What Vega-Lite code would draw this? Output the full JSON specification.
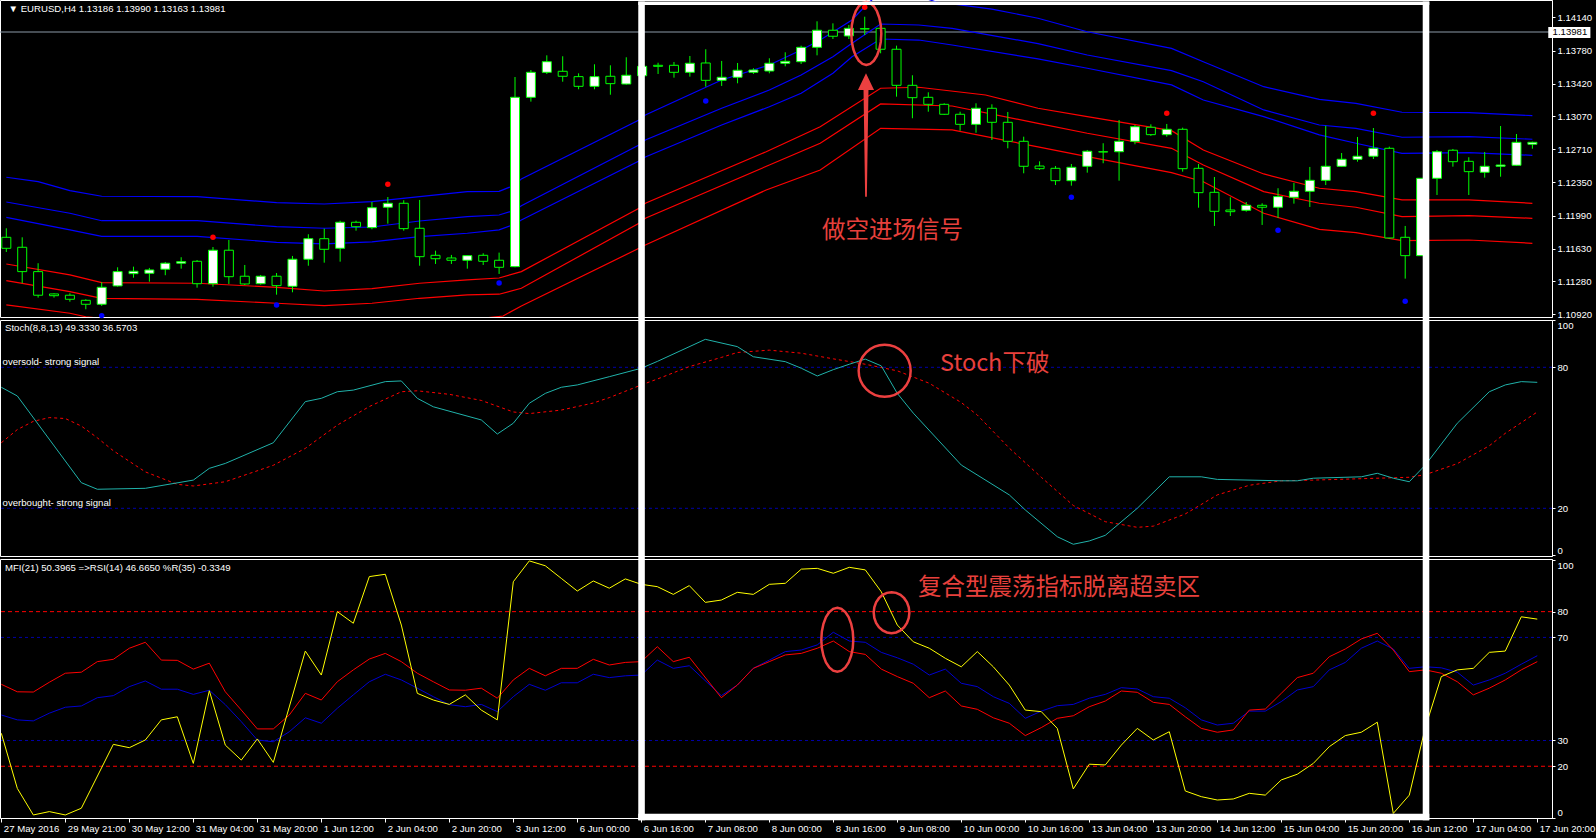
{
"$schema":"https://vega.github.io/schema/vega-lite/v6.json",
"background":"#000000",
"autosize":{"type":"none"},
"padding":{"left":0,"top":0,"right":1596,"bottom":838},
"spacing":3,
"bounds":"flush",
"config":{"view":{"stroke":"#ffffff","strokeWidth":1},"axis":{"labelFont":"Liberation Sans","labelFontSize":9.6,"labelColor":"#ffffff","tickColor":"#ffffff","domainColor":"#ffffff","grid":false,"labelOverlap":false},"text":{"font":"Liberation Sans"}},
"datasets":{
"candles":[
{"k":0,"o":1.11755,"h":1.11853,"l":1.11596,"c":1.11636},
{"k":1,"o":1.11647,"h":1.11755,"l":1.11257,"c":1.11383},
{"k":2,"o":1.11383,"h":1.11474,"l":1.11101,"c":1.11127},
{"k":3,"o":1.11141,"h":1.11148,"l":1.11101,"c":1.11122},
{"k":4,"o":1.11127,"h":1.11148,"l":1.11057,"c":1.11083},
{"k":5,"o":1.11072,"h":1.11083,"l":1.10975,"c":1.11029},
{"k":6,"o":1.11029,"h":1.11268,"l":1.11011,"c":1.11213},
{"k":7,"o":1.11228,"h":1.11430,"l":1.11220,"c":1.11383},
{"k":8,"o":1.11361,"h":1.11437,"l":1.11317,"c":1.11387},
{"k":9,"o":1.11365,"h":1.11423,"l":1.11274,"c":1.11401},
{"k":10,"o":1.11409,"h":1.11488,"l":1.11344,"c":1.11474},
{"k":11,"o":1.11474,"h":1.11539,"l":1.11415,"c":1.11491},
{"k":12,"o":1.11495,"h":1.11509,"l":1.11209,"c":1.11252},
{"k":13,"o":1.11252,"h":1.11650,"l":1.11220,"c":1.11615},
{"k":14,"o":1.11615,"h":1.11726,"l":1.11249,"c":1.11328},
{"k":15,"o":1.11333,"h":1.11455,"l":1.11238,"c":1.11249},
{"k":16,"o":1.11252,"h":1.11347,"l":1.11242,"c":1.11333},
{"k":17,"o":1.11333,"h":1.11368,"l":1.11133,"c":1.11231},
{"k":18,"o":1.11224,"h":1.11553,"l":1.11159,"c":1.11517},
{"k":19,"o":1.11517,"h":1.11788,"l":1.11447,"c":1.11740},
{"k":20,"o":1.11740,"h":1.11849,"l":1.11480,"c":1.11625},
{"k":21,"o":1.11636,"h":1.11935,"l":1.11491,"c":1.11918},
{"k":22,"o":1.11918,"h":1.11935,"l":1.11827,"c":1.11870},
{"k":23,"o":1.11860,"h":1.12138,"l":1.11842,"c":1.12076},
{"k":24,"o":1.12081,"h":1.12192,"l":1.11903,"c":1.12124},
{"k":25,"o":1.12124,"h":1.12157,"l":1.11827,"c":1.11849},
{"k":26,"o":1.11853,"h":1.12160,"l":1.11447,"c":1.11545},
{"k":27,"o":1.11560,"h":1.11610,"l":1.11466,"c":1.11523},
{"k":28,"o":1.11531,"h":1.11564,"l":1.11466,"c":1.11506},
{"k":29,"o":1.11506,"h":1.11556,"l":1.11415,"c":1.11556},
{"k":30,"o":1.11560,"h":1.11582,"l":1.11455,"c":1.11495},
{"k":31,"o":1.11506,"h":1.11589,"l":1.11358,"c":1.11430},
{"k":32,"o":1.11437,"h":1.13493,"l":1.11430,"c":1.13273},
{"k":33,"o":1.13273,"h":1.13569,"l":1.13226,"c":1.13544},
{"k":34,"o":1.13544,"h":1.13728,"l":1.13526,"c":1.13659},
{"k":35,"o":1.13555,"h":1.13718,"l":1.13442,"c":1.13501},
{"k":36,"o":1.13497,"h":1.13533,"l":1.13360,"c":1.13392},
{"k":37,"o":1.13392,"h":1.13631,"l":1.13360,"c":1.13497},
{"k":38,"o":1.13501,"h":1.13620,"l":1.13301,"c":1.13421},
{"k":39,"o":1.13417,"h":1.13707,"l":1.13410,"c":1.13512},
{"k":40,"o":1.13507,"h":1.13620,"l":1.13497,"c":1.13609},
{"k":41,"o":1.13620,"h":1.13648,"l":1.13526,"c":1.13609},
{"k":42,"o":1.13620,"h":1.13656,"l":1.13486,"c":1.13544},
{"k":43,"o":1.13544,"h":1.13721,"l":1.13497,"c":1.13642},
{"k":44,"o":1.13645,"h":1.13794,"l":1.13388,"c":1.13457},
{"k":45,"o":1.13457,"h":1.13667,"l":1.13396,"c":1.13490},
{"k":46,"o":1.13490,"h":1.13645,"l":1.13425,"c":1.13566},
{"k":47,"o":1.13544,"h":1.13588,"l":1.13526,"c":1.13569},
{"k":48,"o":1.13558,"h":1.13696,"l":1.13533,"c":1.13642},
{"k":49,"o":1.13642,"h":1.13761,"l":1.13609,"c":1.13663},
{"k":50,"o":1.13659,"h":1.13833,"l":1.13634,"c":1.13815},
{"k":51,"o":1.13815,"h":1.14097,"l":1.13728,"c":1.14000},
{"k":52,"o":1.14000,"h":1.14075,"l":1.13905,"c":1.13935},
{"k":53,"o":1.13938,"h":1.14057,"l":1.13905,"c":1.14021},
{"k":54,"o":1.14017,"h":1.14147,"l":1.13949,"c":1.14014},
{"k":55,"o":1.14021,"h":1.14039,"l":1.13750,"c":1.13794},
{"k":56,"o":1.13794,"h":1.13833,"l":1.13280,"c":1.13403},
{"k":57,"o":1.13403,"h":1.13512,"l":1.13046,"c":1.13269},
{"k":58,"o":1.13273,"h":1.13327,"l":1.13117,"c":1.13197},
{"k":59,"o":1.13197,"h":1.13208,"l":1.13081,"c":1.13089},
{"k":60,"o":1.13089,"h":1.13117,"l":1.12911,"c":1.12980},
{"k":61,"o":1.12980,"h":1.13208,"l":1.12889,"c":1.13154},
{"k":62,"o":1.13154,"h":1.13197,"l":1.12810,"c":1.13002},
{"k":63,"o":1.13002,"h":1.13114,"l":1.12720,"c":1.12796},
{"k":64,"o":1.12796,"h":1.12846,"l":1.12449,"c":1.12525},
{"k":65,"o":1.12528,"h":1.12579,"l":1.12485,"c":1.12499},
{"k":66,"o":1.12503,"h":1.12528,"l":1.12322,"c":1.12369},
{"k":67,"o":1.12369,"h":1.12550,"l":1.12315,"c":1.12514},
{"k":68,"o":1.12525,"h":1.12702,"l":1.12456,"c":1.12688},
{"k":69,"o":1.12683,"h":1.12775,"l":1.12558,"c":1.12680},
{"k":70,"o":1.12683,"h":1.13027,"l":1.12369,"c":1.12796},
{"k":71,"o":1.12796,"h":1.12973,"l":1.12764,"c":1.12954},
{"k":72,"o":1.12948,"h":1.12980,"l":1.12854,"c":1.12868},
{"k":73,"o":1.12868,"h":1.12984,"l":1.12846,"c":1.12926},
{"k":74,"o":1.12926,"h":1.12944,"l":1.12467,"c":1.12499},
{"k":75,"o":1.12503,"h":1.12550,"l":1.12076,"c":1.12239},
{"k":76,"o":1.12243,"h":1.12409,"l":1.11878,"c":1.12037},
{"k":77,"o":1.12051,"h":1.12189,"l":1.11986,"c":1.12033},
{"k":78,"o":1.12048,"h":1.12138,"l":1.12033,"c":1.12102},
{"k":79,"o":1.12102,"h":1.12124,"l":1.11889,"c":1.12081},
{"k":80,"o":1.12081,"h":1.12287,"l":1.11965,"c":1.12196},
{"k":81,"o":1.12189,"h":1.12344,"l":1.12120,"c":1.12254},
{"k":82,"o":1.12254,"h":1.12518,"l":1.12084,"c":1.12373},
{"k":83,"o":1.12373,"h":1.12965,"l":1.12322,"c":1.12525},
{"k":84,"o":1.12525,"h":1.12669,"l":1.12521,"c":1.12601},
{"k":85,"o":1.12601,"h":1.12843,"l":1.12575,"c":1.12634},
{"k":86,"o":1.12634,"h":1.12940,"l":1.12604,"c":1.12720},
{"k":87,"o":1.12720,"h":1.12738,"l":1.11740,"c":1.11748},
{"k":88,"o":1.11755,"h":1.11878,"l":1.11307,"c":1.11556},
{"k":89,"o":1.11556,"h":1.12395,"l":1.11556,"c":1.12395},
{"k":90,"o":1.12395,"h":1.12702,"l":1.12214,"c":1.12683},
{"k":91,"o":1.12699,"h":1.12713,"l":1.12521,"c":1.12575},
{"k":92,"o":1.12579,"h":1.12623,"l":1.12214,"c":1.12467},
{"k":93,"o":1.12460,"h":1.12680,"l":1.12402,"c":1.12525},
{"k":94,"o":1.12525,"h":1.12962,"l":1.12412,"c":1.12539},
{"k":95,"o":1.12536,"h":1.12875,"l":1.12532,"c":1.12785},
{"k":96,"o":1.12764,"h":1.12792,"l":1.12716,"c":1.12785}
],
"bandsBlue":[
{"band":"b1","k":0,"p":1.12406},{"band":"b1","k":2,"p":1.12358},{"band":"b1","k":4,"p":1.12261},{"band":"b1","k":6,"p":1.12200},{"band":"b1","k":12,"p":1.12196},{"band":"b1","k":17,"p":1.12131},{"band":"b1","k":20,"p":1.12116},{"band":"b1","k":23,"p":1.12141},{"band":"b1","k":26,"p":1.12196},{"band":"b1","k":29,"p":1.12250},{"band":"b1","k":31,"p":1.12254},{"band":"b1","k":32,"p":1.12322},{"band":"b1","k":32.4,"p":1.12388},{"band":"b1","k":39.8,"p":1.13027},{"band":"b1","k":40.2,"p":1.13081},{"band":"b1","k":45,"p":1.13461},{"band":"b1","k":48,"p":1.13623},{"band":"b1","k":50,"p":1.13786},{"band":"b1","k":51.2,"p":1.13894},{"band":"b1","k":53.2,"p":1.14111},{"band":"b1","k":54.1,"p":1.14274},{"band":"b1","k":55,"p":1.14415},{"band":"b1","k":57,"p":1.14393},{"band":"b1","k":58.5,"p":1.14306},{"band":"b1","k":59.5,"p":1.14285},{"band":"b1","k":62,"p":1.14230},{"band":"b1","k":64.9,"p":1.14130},{"band":"b1","k":68,"p":1.13984},{"band":"b1","k":73.3,"p":1.13804},{"band":"b1","k":75.3,"p":1.13659},{"band":"b1","k":79.1,"p":1.13388},{"band":"b1","k":82.6,"p":1.13251},{"band":"b1","k":84.9,"p":1.13208},{"band":"b1","k":87.8,"p":1.13111},{"band":"b1","k":92,"p":1.13106},{"band":"b1","k":96,"p":1.13074},
{"band":"b2","k":0,"p":1.12138},{"band":"b2","k":4,"p":1.12016},{"band":"b2","k":6,"p":1.11935},{"band":"b2","k":12,"p":1.11935},{"band":"b2","k":17,"p":1.11870},{"band":"b2","k":20,"p":1.11853},{"band":"b2","k":23,"p":1.11867},{"band":"b2","k":26,"p":1.11932},{"band":"b2","k":29,"p":1.11979},{"band":"b2","k":31,"p":1.11997},{"band":"b2","k":32,"p":1.12050},{"band":"b2","k":32.4,"p":1.12098},{"band":"b2","k":39.8,"p":1.12756},{"band":"b2","k":40.2,"p":1.12810},{"band":"b2","k":45,"p":1.13154},{"band":"b2","k":48,"p":1.13352},{"band":"b2","k":50,"p":1.13515},{"band":"b2","k":52,"p":1.13713},{"band":"b2","k":53.2,"p":1.13859},{"band":"b2","k":55,"p":1.14068},{"band":"b2","k":57.4,"p":1.14057},{"band":"b2","k":59.5,"p":1.14021},{"band":"b2","k":64.9,"p":1.13855},{"band":"b2","k":68,"p":1.13732},{"band":"b2","k":73.3,"p":1.13562},{"band":"b2","k":75.3,"p":1.13442},{"band":"b2","k":79.1,"p":1.13136},{"band":"b2","k":82.6,"p":1.12973},{"band":"b2","k":84.9,"p":1.12937},{"band":"b2","k":87.8,"p":1.12840},{"band":"b2","k":92,"p":1.12846},{"band":"b2","k":96,"p":1.12818},
{"band":"b3","k":0,"p":1.11972},{"band":"b3","k":4,"p":1.11835},{"band":"b3","k":6,"p":1.11766},{"band":"b3","k":12,"p":1.11766},{"band":"b3","k":17,"p":1.11701},{"band":"b3","k":20,"p":1.11683},{"band":"b3","k":23,"p":1.11705},{"band":"b3","k":26,"p":1.11762},{"band":"b3","k":29,"p":1.11799},{"band":"b3","k":31,"p":1.11835},{"band":"b3","k":32,"p":1.11900},{"band":"b3","k":32.4,"p":1.11943},{"band":"b3","k":39.8,"p":1.12583},{"band":"b3","k":40.2,"p":1.12626},{"band":"b3","k":45,"p":1.12973},{"band":"b3","k":48,"p":1.13171},{"band":"b3","k":50,"p":1.13317},{"band":"b3","k":52,"p":1.13533},{"band":"b3","k":53.2,"p":1.13713},{"band":"b3","k":55,"p":1.13905},{"band":"b3","k":57.4,"p":1.13894},{"band":"b3","k":59.5,"p":1.13840},{"band":"b3","k":64.9,"p":1.13690},{"band":"b3","k":68,"p":1.13588},{"band":"b3","k":73.3,"p":1.13407},{"band":"b3","k":75.3,"p":1.13244},{"band":"b3","k":79.1,"p":1.13063},{"band":"b3","k":82.6,"p":1.12865},{"band":"b3","k":84.9,"p":1.12775},{"band":"b3","k":87.8,"p":1.12666},{"band":"b3","k":92,"p":1.12673},{"band":"b3","k":96,"p":1.12644}
],
"bandsRed":[
{"band":"r1","k":0,"p":1.11466},{"band":"r1","k":4,"p":1.11347},{"band":"r1","k":6,"p":1.11263},{"band":"r1","k":12,"p":1.11257},{"band":"r1","k":17,"p":1.11213},{"band":"r1","k":20,"p":1.11173},{"band":"r1","k":23,"p":1.11198},{"band":"r1","k":26,"p":1.11257},{"band":"r1","k":29,"p":1.11293},{"band":"r1","k":31,"p":1.11314},{"band":"r1","k":32.4,"p":1.11383},{"band":"r1","k":39.8,"p":1.12070},{"band":"r1","k":40.2,"p":1.12124},{"band":"r1","k":47.8,"p":1.12683},{"band":"r1","k":51.2,"p":1.12954},{"band":"r1","k":55,"p":1.13371},{"band":"r1","k":57.4,"p":1.13382},{"band":"r1","k":61.6,"p":1.13298},{"band":"r1","k":64.9,"p":1.13154},{"band":"r1","k":68,"p":1.13063},{"band":"r1","k":73.3,"p":1.12911},{"band":"r1","k":75.3,"p":1.12702},{"band":"r1","k":79.1,"p":1.12442},{"band":"r1","k":82.6,"p":1.12287},{"band":"r1","k":84.9,"p":1.12250},{"band":"r1","k":87.8,"p":1.12160},{"band":"r1","k":92,"p":1.12160},{"band":"r1","k":96,"p":1.12124},
{"band":"r2","k":0,"p":1.11285},{"band":"r2","k":4,"p":1.11166},{"band":"r2","k":6,"p":1.11094},{"band":"r2","k":12,"p":1.11083},{"band":"r2","k":17,"p":1.11040},{"band":"r2","k":20,"p":1.11014},{"band":"r2","k":23,"p":1.11040},{"band":"r2","k":26,"p":1.11094},{"band":"r2","k":29,"p":1.11130},{"band":"r2","k":31,"p":1.11138},{"band":"r2","k":32.4,"p":1.11203},{"band":"r2","k":39.8,"p":1.11907},{"band":"r2","k":40.2,"p":1.11961},{"band":"r2","k":48,"p":1.12539},{"band":"r2","k":51.2,"p":1.12775},{"band":"r2","k":55,"p":1.13201},{"band":"r2","k":59.5,"p":1.13179},{"band":"r2","k":64.9,"p":1.12991},{"band":"r2","k":68,"p":1.12883},{"band":"r2","k":73.3,"p":1.12720},{"band":"r2","k":75.3,"p":1.12539},{"band":"r2","k":79.1,"p":1.12250},{"band":"r2","k":82.6,"p":1.12124},{"band":"r2","k":84.9,"p":1.12081},{"band":"r2","k":87.8,"p":1.11979},{"band":"r2","k":92,"p":1.11990},{"band":"r2","k":96,"p":1.11961},
{"band":"r3","k":0,"p":1.11022},{"band":"r3","k":4,"p":1.10932},{"band":"r3","k":5,"p":1.10894},{"band":"r3","k":8,"p":1.10837},{"band":"r3","k":12,"p":1.10805},{"band":"r3","k":17,"p":1.10751},{"band":"r3","k":20,"p":1.10729},{"band":"r3","k":23,"p":1.10751},{"band":"r3","k":26,"p":1.10805},{"band":"r3","k":29,"p":1.10859},{"band":"r3","k":31.25,"p":1.10902},{"band":"r3","k":32.4,"p":1.11011},{"band":"r3","k":39.8,"p":1.11636},{"band":"r3","k":40.2,"p":1.11672},{"band":"r3","k":47.8,"p":1.12268},{"band":"r3","k":51.2,"p":1.12485},{"band":"r3","k":55,"p":1.12937},{"band":"r3","k":59.5,"p":1.12919},{"band":"r3","k":64.9,"p":1.12735},{"band":"r3","k":68,"p":1.12629},{"band":"r3","k":73.3,"p":1.12456},{"band":"r3","k":75.3,"p":1.12358},{"band":"r3","k":79.1,"p":1.12016},{"band":"r3","k":82.6,"p":1.11842},{"band":"r3","k":84.9,"p":1.11805},{"band":"r3","k":87.8,"p":1.11719},{"band":"r3","k":92,"p":1.11726},{"band":"r3","k":96,"p":1.11690}
],
"dotsHi":[{"k":13,"p":1.11755},{"k":24,"p":1.12330},{"k":54,"p":1.14249},{"k":73,"p":1.13100},{"k":86,"p":1.13100}],
"dotsLo":[{"k":6,"p":1.10906},{"k":17,"p":1.11022},{"k":31,"p":1.11260},{"k":44,"p":1.13233},{"k":67,"p":1.12189},{"k":80,"p":1.11831},{"k":88,"p":1.11062}],
"stochK":[
{"k":0,"v":71.5},{"k":1,"v":67.8},{"k":5,"v":30.9},{"k":6,"v":28.1},{"k":9,"v":28.5},{"k":12,"v":32.0},{"k":13,"v":37.0},{"k":14,"v":39.1},{"k":17,"v":47.9},{"k":19,"v":65.4},{"k":20,"v":66.8},{"k":21,"v":69.6},{"k":22,"v":70.3},{"k":24,"v":73.9},{"k":25,"v":74.2},{"k":26,"v":66.8},{"k":27,"v":63.2},{"k":30,"v":57.6},{"k":31,"v":51.6},{"k":32,"v":56.2},{"k":33,"v":64.7},{"k":34,"v":68.9},{"k":35,"v":71.5},{"k":36,"v":72.5},{"k":38,"v":76.0},{"k":40,"v":79.6},{"k":41,"v":82.5},{"k":44,"v":91.9},{"k":46,"v":88.8},{"k":47,"v":84.5},{"k":49,"v":82.4},{"k":50,"v":79.6},{"k":51,"v":76.3},{"k":52,"v":79.0},{"k":53,"v":81.3},{"k":54,"v":83.5},{"k":55,"v":80.6},{"k":56,"v":68.9},{"k":57,"v":60.5},{"k":60,"v":38.4},{"k":63,"v":25.7},{"k":64,"v":19.3},{"k":66,"v":7.9},{"k":67,"v":4.7},{"k":68,"v":6.1},{"k":69,"v":8.5},{"k":71,"v":20.0},{"k":73,"v":33.4},{"k":75,"v":33.4},{"k":76,"v":32.3},{"k":80,"v":31.7},{"k":81,"v":31.7},{"k":82,"v":32.8},{"k":85,"v":33.4},{"k":86,"v":34.9},{"k":87,"v":32.8},{"k":88,"v":31.3},{"k":89,"v":38.4},{"k":91,"v":56.2},{"k":93,"v":69.6},{"k":94,"v":72.5},{"k":95,"v":73.9},{"k":96,"v":73.6}
],
"stochD":[
{"k":0,"v":47.9},{"k":1,"v":53.5},{"k":2,"v":57.0},{"k":3,"v":58.6},{"k":4,"v":58.2},{"k":5,"v":55.0},{"k":6,"v":50.0},{"k":7,"v":44.5},{"k":9,"v":35.5},{"k":11,"v":30.2},{"k":12,"v":29.5},{"k":14,"v":31.3},{"k":17,"v":38.3},{"k":19,"v":45.5},{"k":21,"v":55.4},{"k":23,"v":63.3},{"k":25,"v":69.6},{"k":26,"v":70.0},{"k":28,"v":68.5},{"k":30,"v":65.9},{"k":32,"v":61.0},{"k":33,"v":60.3},{"k":35,"v":61.8},{"k":37,"v":64.8},{"k":38,"v":67.1},{"k":40,"v":72.5},{"k":41,"v":75.0},{"k":43,"v":80.3},{"k":45,"v":84.2},{"k":46,"v":86.3},{"k":48,"v":87.3},{"k":50,"v":86.0},{"k":52,"v":83.6},{"k":54,"v":81.3},{"k":56,"v":78.5},{"k":58,"v":73.2},{"k":60,"v":65.0},{"k":61,"v":59.7},{"k":63,"v":45.6},{"k":65,"v":33.2},{"k":67,"v":21.2},{"k":69,"v":14.3},{"k":71,"v":11.9},{"k":72,"v":12.4},{"k":74,"v":17.6},{"k":76,"v":25.7},{"k":78,"v":29.8},{"k":80,"v":31.7},{"k":82,"v":32.0},{"k":85,"v":32.6},{"k":87,"v":33.0},{"k":88,"v":33.2},{"k":89,"v":34.3},{"k":91,"v":39.0},{"k":93,"v":46.6},{"k":94,"v":51.9},{"k":96,"v":61.0}
],
"mfiY":[
{"k":0,"v":32.8},{"k":1,"v":11.4},{"k":2,"v":1.1},{"k":3,"v":2.4},{"k":4,"v":1.1},{"k":5,"v":3.7},{"k":7,"v":28.5},{"k":8,"v":27.2},{"k":9,"v":30.2},{"k":10,"v":38.0},{"k":11,"v":39.2},{"k":12,"v":21.1},{"k":13,"v":49.3},{"k":14,"v":28.2},{"k":15,"v":22.4},{"k":16,"v":30.6},{"k":17,"v":21.5},{"k":19,"v":64.7},{"k":20,"v":55.4},{"k":21,"v":80.0},{"k":22,"v":75.5},{"k":23,"v":93.6},{"k":24,"v":94.5},{"k":25,"v":74.8},{"k":26,"v":48.3},{"k":27,"v":45.7},{"k":28,"v":44.0},{"k":29,"v":47.7},{"k":30,"v":41.8},{"k":31,"v":38.0},{"k":32,"v":91.6},{"k":33,"v":99.7},{"k":34,"v":97.8},{"k":35,"v":92.9},{"k":36,"v":88.0},{"k":37,"v":91.9},{"k":38,"v":89.1},{"k":39,"v":92.7},{"k":40,"v":90.6},{"k":41,"v":89.7},{"k":42,"v":86.7},{"k":43,"v":90.1},{"k":44,"v":83.6},{"k":45,"v":84.5},{"k":46,"v":87.5},{"k":47,"v":86.7},{"k":48,"v":90.6},{"k":49,"v":91.0},{"k":50,"v":96.5},{"k":51,"v":96.8},{"k":52,"v":94.9},{"k":53,"v":97.2},{"k":54,"v":96.2},{"k":55,"v":87.7},{"k":56,"v":74.8},{"k":57,"v":68.3},{"k":58,"v":65.8},{"k":59,"v":61.9},{"k":60,"v":58.6},{"k":61,"v":64.5},{"k":62,"v":58.6},{"k":63,"v":51.5},{"k":64,"v":41.8},{"k":65,"v":41.2},{"k":66,"v":34.7},{"k":67,"v":11.2},{"k":68,"v":20.8},{"k":69,"v":20.5},{"k":70,"v":28.2},{"k":71,"v":34.7},{"k":72,"v":30.2},{"k":73,"v":33.4},{"k":74,"v":10.4},{"k":75,"v":8.2},{"k":76,"v":6.9},{"k":77,"v":7.3},{"k":78,"v":9.5},{"k":79,"v":8.8},{"k":80,"v":14.7},{"k":81,"v":16.9},{"k":82,"v":21.1},{"k":83,"v":27.6},{"k":84,"v":31.9},{"k":85,"v":33.2},{"k":86,"v":37.1},{"k":87,"v":1.7},{"k":88,"v":8.8},{"k":89,"v":35.0},{"k":90,"v":54.8},{"k":91,"v":57.4},{"k":92,"v":58.0},{"k":93,"v":64.2},{"k":94,"v":64.7},{"k":95,"v":78.0},{"k":96,"v":77.1}
],
"mfiR":[
{"k":0,"v":51.8},{"k":1,"v":48.9},{"k":2,"v":48.8},{"k":3,"v":52.6},{"k":4,"v":56.1},{"k":5,"v":56.5},{"k":6,"v":60.6},{"k":7,"v":61.5},{"k":8,"v":65.8},{"k":9,"v":68.1},{"k":10,"v":61.2},{"k":11,"v":61.1},{"k":12,"v":57.7},{"k":13,"v":60.0},{"k":14,"v":48.9},{"k":15,"v":41.8},{"k":16,"v":34.5},{"k":17,"v":34.5},{"k":18,"v":39.9},{"k":19,"v":48.3},{"k":20,"v":45.7},{"k":21,"v":52.8},{"k":22,"v":57.4},{"k":23,"v":61.6},{"k":24,"v":63.8},{"k":25,"v":60.6},{"k":26,"v":56.1},{"k":27,"v":52.8},{"k":28,"v":49.6},{"k":29,"v":49.5},{"k":30,"v":50.3},{"k":31,"v":46.4},{"k":32,"v":53.5},{"k":33,"v":58.0},{"k":34,"v":55.1},{"k":35,"v":58.0},{"k":36,"v":58.0},{"k":37,"v":61.5},{"k":38,"v":59.3},{"k":39,"v":60.3},{"k":40,"v":60.6},{"k":41,"v":66.4},{"k":42,"v":60.6},{"k":43,"v":62.3},{"k":45,"v":46.6},{"k":46,"v":51.5},{"k":47,"v":58.0},{"k":48,"v":60.6},{"k":49,"v":63.2},{"k":50,"v":63.8},{"k":51,"v":65.8},{"k":52,"v":68.6},{"k":53,"v":64.5},{"k":54,"v":63.4},{"k":55,"v":57.7},{"k":56,"v":54.8},{"k":57,"v":52.2},{"k":58,"v":46.6},{"k":59,"v":49.2},{"k":60,"v":43.4},{"k":61,"v":42.1},{"k":62,"v":38.8},{"k":63,"v":36.7},{"k":64,"v":31.9},{"k":65,"v":35.0},{"k":66,"v":38.6},{"k":67,"v":39.6},{"k":68,"v":43.1},{"k":69,"v":45.3},{"k":70,"v":49.2},{"k":71,"v":48.7},{"k":72,"v":44.8},{"k":73,"v":44.0},{"k":74,"v":39.2},{"k":75,"v":34.7},{"k":76,"v":33.2},{"k":77,"v":34.1},{"k":78,"v":41.8},{"k":79,"v":42.2},{"k":80,"v":48.3},{"k":81,"v":54.4},{"k":82,"v":56.1},{"k":83,"v":62.5},{"k":84,"v":65.5},{"k":85,"v":69.4},{"k":86,"v":71.6},{"k":87,"v":65.1},{"k":88,"v":56.7},{"k":89,"v":57.4},{"k":90,"v":56.1},{"k":91,"v":52.8},{"k":92,"v":47.7},{"k":93,"v":50.3},{"k":94,"v":53.5},{"k":95,"v":57.4},{"k":96,"v":60.6}
],
"mfiB":[
{"k":0,"v":39.9},{"k":1,"v":38.0},{"k":2,"v":37.6},{"k":3,"v":40.6},{"k":4,"v":42.9},{"k":5,"v":43.4},{"k":6,"v":46.6},{"k":7,"v":47.4},{"k":8,"v":50.9},{"k":9,"v":53.1},{"k":10,"v":49.9},{"k":11,"v":49.9},{"k":12,"v":47.9},{"k":13,"v":49.5},{"k":14,"v":43.9},{"k":15,"v":37.3},{"k":16,"v":30.2},{"k":17,"v":29.5},{"k":18,"v":33.4},{"k":19,"v":38.8},{"k":20,"v":36.7},{"k":21,"v":42.5},{"k":22,"v":47.7},{"k":23,"v":52.8},{"k":24,"v":55.7},{"k":25,"v":53.5},{"k":26,"v":50.3},{"k":27,"v":47.0},{"k":28,"v":43.9},{"k":29,"v":43.1},{"k":30,"v":44.0},{"k":31,"v":41.2},{"k":32,"v":47.0},{"k":33,"v":51.8},{"k":34,"v":49.5},{"k":35,"v":52.4},{"k":36,"v":52.4},{"k":37,"v":55.7},{"k":38,"v":54.4},{"k":39,"v":55.1},{"k":40,"v":55.4},{"k":41,"v":61.2},{"k":42,"v":58.0},{"k":43,"v":59.0},{"k":45,"v":47.4},{"k":46,"v":51.5},{"k":47,"v":58.0},{"k":48,"v":61.2},{"k":49,"v":64.5},{"k":50,"v":65.1},{"k":51,"v":67.1},{"k":52,"v":72.0},{"k":53,"v":68.6},{"k":54,"v":68.1},{"k":55,"v":64.2},{"k":56,"v":62.1},{"k":57,"v":59.6},{"k":58,"v":55.4},{"k":59,"v":57.7},{"k":60,"v":52.2},{"k":61,"v":50.9},{"k":62,"v":47.0},{"k":63,"v":44.4},{"k":64,"v":38.6},{"k":65,"v":41.4},{"k":66,"v":43.5},{"k":67,"v":44.0},{"k":68,"v":46.4},{"k":69,"v":47.9},{"k":70,"v":50.5},{"k":71,"v":50.0},{"k":72,"v":47.0},{"k":73,"v":46.4},{"k":74,"v":42.7},{"k":75,"v":38.0},{"k":76,"v":36.0},{"k":77,"v":36.7},{"k":78,"v":41.4},{"k":79,"v":41.4},{"k":80,"v":45.1},{"k":81,"v":49.6},{"k":82,"v":50.9},{"k":83,"v":57.4},{"k":84,"v":60.3},{"k":85,"v":65.8},{"k":86,"v":68.6},{"k":87,"v":65.5},{"k":88,"v":58.0},{"k":89,"v":58.6},{"k":90,"v":58.2},{"k":91,"v":56.5},{"k":92,"v":51.5},{"k":93,"v":53.5},{"k":94,"v":56.1},{"k":95,"v":59.6},{"k":96,"v":62.9}
],
"frame":[
{"k":39.81,"k2":89.25,"v":316.76,"v2":315.4},
{"k":39.81,"k2":89.25,"v":1.55,"v2":-0.97},
{"k":39.81,"k2":40.22,"v":316.76,"v2":-0.97},
{"k":88.84,"k2":89.25,"v":316.76,"v2":-0.97}
]
},
"vconcat":[
{"width":1552,"height":317,
 "layer":[
  {"data":{"values":[{"p":1.13981}]},"mark":{"type":"rule","color":"#8c9aa8","strokeWidth":1},
   "encoding":{"y":{"field":"p","type":"quantitative","scale":{"domain":[1.10891,1.14328],"nice":false,"zero":false},"title":null,"axis":{"orient":"right","values":[1.1092,1.1128,1.1163,1.1199,1.1235,1.1271,1.1307,1.1342,1.1378,1.1414],"tickCount":20,"format":".5f","tickSize":3,"labelPadding":2,"labelOverlap":false,"title":null}}}},
  {"data":{"name":"bandsBlue"},"mark":{"type":"line","color":"#0000ff","strokeWidth":1.2,"clip":true},
   "encoding":{"x":{"field":"k","type":"quantitative","scale":{"domain":[-0.083,96.92],"nice":false,"zero":false},"axis":null},"y":{"field":"p","type":"quantitative","title":null},"detail":{"field":"band"}}},
  {"data":{"name":"bandsRed"},"mark":{"type":"line","color":"#ff0000","strokeWidth":1.2,"clip":true},
   "encoding":{"x":{"field":"k","type":"quantitative","axis":null},"y":{"field":"p","type":"quantitative","title":null},"detail":{"field":"band"}}},
  {"data":{"name":"candles"},"mark":{"type":"rule","color":"#00ff00","strokeWidth":1,"clip":true},
   "encoding":{"x":{"field":"k","type":"quantitative","axis":null},"y":{"field":"l","type":"quantitative","title":null},"y2":{"field":"h"}}},
  {"data":{"name":"candles"},"mark":{"type":"bar","size":9,"stroke":"#00ff00","strokeWidth":1,"clip":true},
   "encoding":{"x":{"field":"k","type":"quantitative","axis":null},"y":{"field":"o","type":"quantitative","title":null},"y2":{"field":"c"},"fill":{"condition":{"test":"datum.c > datum.o","value":"#ffffff"},"value":"#000000"}}},
  {"data":{"name":"dotsHi"},"mark":{"type":"point","filled":true,"size":30,"opacity":1,"color":"#ff0000"},
   "encoding":{"x":{"field":"k","type":"quantitative","axis":null},"y":{"field":"p","type":"quantitative","title":null}}},
  {"data":{"name":"dotsLo"},"mark":{"type":"point","filled":true,"size":30,"opacity":1,"color":"#0000ff"},
   "encoding":{"x":{"field":"k","type":"quantitative","axis":null},"y":{"field":"p","type":"quantitative","title":null}}},
  {"data":{"values":[{"k":0.14,"p":1.14234,"t":"▼ EURUSD,H4  1.13186 1.13990 1.13163 1.13981"}]},"mark":{"type":"text","align":"left","baseline":"middle","color":"#ffffff","fontSize":9.6},
   "encoding":{"x":{"field":"k","type":"quantitative","axis":null},"y":{"field":"p","type":"quantitative","title":null},"text":{"field":"t"}}},
  {"data":{"values":[{"k":97.0,"k2":99.65,"p":1.14035,"p2":1.13916}]},"mark":{"type":"rect","color":"#ffffff","clip":false},
   "encoding":{"x":{"field":"k","type":"quantitative","axis":null},"x2":{"field":"k2"},"y":{"field":"p","type":"quantitative","title":null},"y2":{"field":"p2"}}},
  {"data":{"values":[{"k":97.27,"p":1.13981,"t":"1.13981"}]},"mark":{"type":"text","align":"left","baseline":"middle","color":"#000000","fontSize":9.6},
   "encoding":{"x":{"field":"k","type":"quantitative","axis":null},"y":{"field":"p","type":"quantitative","title":null},"text":{"field":"t"}}},
  {"data":{"values":[{"k":54.08,"p":1.12864}]},"mark":{"type":"point","shape":"M0,-1L0.13,-0.73L0.04,-0.73L0.014,1L-0.014,1L-0.04,-0.73L-0.13,-0.73Z","size":15228,"filled":true,"opacity":1,"color":"#ec4040"},
   "encoding":{"x":{"field":"k","type":"quantitative","axis":null},"y":{"field":"p","type":"quantitative","title":null}}},
  {"data":{"values":[{"k":54.1,"p":1.13965}]},"mark":{"type":"point","shape":"M0,-1L0.123,-0.966L0.238,-0.866L0.337,-0.707L0.412,-0.5L0.46,-0.259L0.476,0L0.46,0.259L0.412,0.5L0.337,0.707L0.238,0.866L0.123,0.966L0,1L-0.123,0.966L-0.238,0.866L-0.337,0.707L-0.412,0.5L-0.46,0.259L-0.476,0L-0.46,-0.259L-0.412,-0.5L-0.337,-0.707L-0.238,-0.866L-0.123,-0.966Z","size":3969,"filled":false,"opacity":1,"color":"#ec4040","strokeWidth":2.5,"strokeJoin":"round"},
   "encoding":{"x":{"field":"k","type":"quantitative","axis":null},"y":{"field":"p","type":"quantitative","title":null}}},
  {"data":{"values":[{"k":51.32,"p":1.11824,"t":"做空进场信号"}]},"mark":{"type":"text","align":"left","baseline":"middle","color":"#e8403c","font":"Noto Sans CJK SC","fontSize":23.5},
   "encoding":{"x":{"field":"k","type":"quantitative","axis":null},"y":{"field":"p","type":"quantitative","title":null},"text":{"field":"t"}}}
 ]},
{"width":1552,"height":236,
 "layer":[
  {"data":{"values":[{"v":20},{"v":80}]},"mark":{"type":"rule","color":"#0000a8","strokeWidth":1,"strokeDash":[3,3]},
   "encoding":{"y":{"field":"v","type":"quantitative","scale":{"domain":[-0.3,100.13],"nice":false,"zero":false},"title":null,"axis":{"orient":"right","values":[0,20,80,100],"tickCount":20,"tickSize":3,"labelPadding":2,"labelOverlap":false,"title":null,"labelBaseline":{"condition":[{"test":"datum.value == 100","value":"top"},{"test":"datum.value == 0","value":"bottom"}],"value":"middle"}}}}},
  {"data":{"name":"stochD"},"mark":{"type":"line","color":"#ff0000","strokeWidth":1,"strokeDash":[3,3]},
   "encoding":{"x":{"field":"k","type":"quantitative","scale":{"domain":[-0.083,96.92],"nice":false,"zero":false},"axis":null},"y":{"field":"v","type":"quantitative","title":null}}},
  {"data":{"name":"stochK"},"mark":{"type":"line","color":"#20b2aa","strokeWidth":1},
   "encoding":{"x":{"field":"k","type":"quantitative","axis":null},"y":{"field":"v","type":"quantitative","title":null}}},
  {"data":{"values":[{"k":0.23,"v":96.6,"t":"Stoch(8,8,13) 49.3330 36.5703"},{"k":0.08,"v":82.4,"t":"oversold-  strong signal"},{"k":0.08,"v":22.4,"t":"overbought- strong signal"}]},"mark":{"type":"text","align":"left","baseline":"middle","color":"#ffffff","fontSize":9.6},
   "encoding":{"x":{"field":"k","type":"quantitative","axis":null},"y":{"field":"v","type":"quantitative","title":null},"text":{"field":"t"}}},
  {"data":{"values":[{"k":55.21,"v":78.5}]},"mark":{"type":"point","shape":"circle","size":2704,"filled":false,"opacity":1,"color":"#ec4040","strokeWidth":2.5},
   "encoding":{"x":{"field":"k","type":"quantitative","axis":null},"y":{"field":"v","type":"quantitative","title":null}}},
  {"data":{"values":[{"k":58.67,"v":81.3,"t":"Stoch下破"}]},"mark":{"type":"text","align":"left","baseline":"middle","color":"#e8403c","font":"Noto Sans CJK SC","fontSize":23.5},
   "encoding":{"x":{"field":"k","type":"quantitative","axis":null},"y":{"field":"v","type":"quantitative","title":null},"text":{"field":"t"}}}
 ]},
{"width":1552,"height":259,
 "layer":[
  {"data":{"values":[{"v":20},{"v":80}]},"mark":{"type":"rule","color":"#ff0000","strokeWidth":1,"strokeDash":[4,3]},
   "encoding":{"y":{"field":"v","type":"quantitative","scale":{"domain":[-0.08,100.43],"nice":false,"zero":false},"title":null,"axis":{"orient":"right","values":[0,20,30,70,80,100],"tickCount":20,"tickSize":3,"labelPadding":2,"labelOverlap":false,"title":null,"labelBaseline":{"condition":[{"test":"datum.value == 100","value":"top"},{"test":"datum.value == 0","value":"bottom"}],"value":"middle"}}}}},
  {"data":{"values":[{"v":30},{"v":70}]},"mark":{"type":"rule","color":"#0000a8","strokeWidth":1,"strokeDash":[3,3]},
   "encoding":{"y":{"field":"v","type":"quantitative","title":null}}},
  {"data":{"name":"mfiB"},"mark":{"type":"line","color":"#0000d0","strokeWidth":1},
   "encoding":{"x":{"field":"k","type":"quantitative","scale":{"domain":[-0.083,96.92],"nice":false,"zero":false},"title":null,"axis":{"values":[0,4,8,12,16,20,24,28,32,36,40,44,48,52,56,60,64,68,72,76,80,84,88,92,96],"tickCount":60,"labelExpr":"['27 May 2016','29 May 21:00','30 May 12:00','31 May 04:00','31 May 20:00','1 Jun 12:00','2 Jun 04:00','2 Jun 20:00','3 Jun 12:00','6 Jun 00:00','6 Jun 16:00','7 Jun 08:00','8 Jun 00:00','8 Jun 16:00','9 Jun 08:00','10 Jun 00:00','10 Jun 16:00','13 Jun 04:00','13 Jun 20:00','14 Jun 12:00','15 Jun 04:00','15 Jun 20:00','16 Jun 12:00','17 Jun 04:00','17 Jun 20:00'][round(datum.value/4)]","labelAlign":"left","labelBaseline":"top","labelOffset":2,"labelPadding":1,"tickSize":4,"labelFlush":false,"labelOverlap":false,"title":null}},"y":{"field":"v","type":"quantitative","title":null}}},
  {"data":{"name":"mfiR"},"mark":{"type":"line","color":"#ff0000","strokeWidth":1},
   "encoding":{"x":{"field":"k","type":"quantitative","title":null},"y":{"field":"v","type":"quantitative","title":null}}},
  {"data":{"name":"mfiY"},"mark":{"type":"line","color":"#ffff00","strokeWidth":1},
   "encoding":{"x":{"field":"k","type":"quantitative","title":null},"y":{"field":"v","type":"quantitative","title":null}}},
  {"data":{"values":[{"k":0.23,"v":97.05,"t":"MFI(21) 50.3965  =>RSI(14) 46.6650  %R(35) -0.3349"}]},"mark":{"type":"text","align":"left","baseline":"middle","color":"#ffffff","fontSize":9.6},
   "encoding":{"x":{"field":"k","type":"quantitative","title":null},"y":{"field":"v","type":"quantitative","title":null},"text":{"field":"t"}}},
  {"data":{"values":[{"k":52.25,"v":69.1}]},"mark":{"type":"point","shape":"M0,-1L0.129,-0.966L0.25,-0.866L0.354,-0.707L0.433,-0.5L0.483,-0.259L0.5,0L0.483,0.259L0.433,0.5L0.354,0.707L0.25,0.866L0.129,0.966L0,1L-0.129,0.966L-0.25,0.866L-0.354,0.707L-0.433,0.5L-0.483,0.259L-0.5,0L-0.483,-0.259L-0.433,-0.5L-0.354,-0.707L-0.25,-0.866L-0.129,-0.966Z","size":4096,"filled":false,"opacity":1,"color":"#ec4040","strokeWidth":2.5},
   "encoding":{"x":{"field":"k","type":"quantitative","title":null},"y":{"field":"v","type":"quantitative","title":null}}},
  {"data":{"values":[{"k":55.64,"v":79.6}]},"mark":{"type":"point","shape":"M0,-1L0.225,-0.966L0.435,-0.866L0.615,-0.707L0.753,-0.5L0.84,-0.259L0.87,0L0.84,0.259L0.753,0.5L0.615,0.707L0.435,0.866L0.225,0.966L0,1L-0.225,0.966L-0.435,0.866L-0.615,0.707L-0.753,0.5L-0.84,0.259L-0.87,0L-0.84,-0.259L-0.753,-0.5L-0.615,-0.707L-0.435,-0.866L-0.225,-0.966Z","size":1681,"filled":false,"opacity":1,"color":"#ec4040","strokeWidth":2.5},
   "encoding":{"x":{"field":"k","type":"quantitative","title":null},"y":{"field":"v","type":"quantitative","title":null}}},
  {"data":{"values":[{"k":57.29,"v":89.06,"t":"复合型震荡指标脱离超卖区"}]},"mark":{"type":"text","align":"left","baseline":"middle","color":"#e8403c","font":"Noto Sans CJK SC","fontSize":23.5},
   "encoding":{"x":{"field":"k","type":"quantitative","title":null},"y":{"field":"v","type":"quantitative","title":null},"text":{"field":"t"}}},
  {"data":{"name":"frame"},"mark":{"type":"rect","color":"#ffffff","clip":false},
   "encoding":{"x":{"field":"k","type":"quantitative","title":null},"x2":{"field":"k2"},"y":{"field":"v","type":"quantitative","title":null},"y2":{"field":"v2"}}}
 ]}
]
}
